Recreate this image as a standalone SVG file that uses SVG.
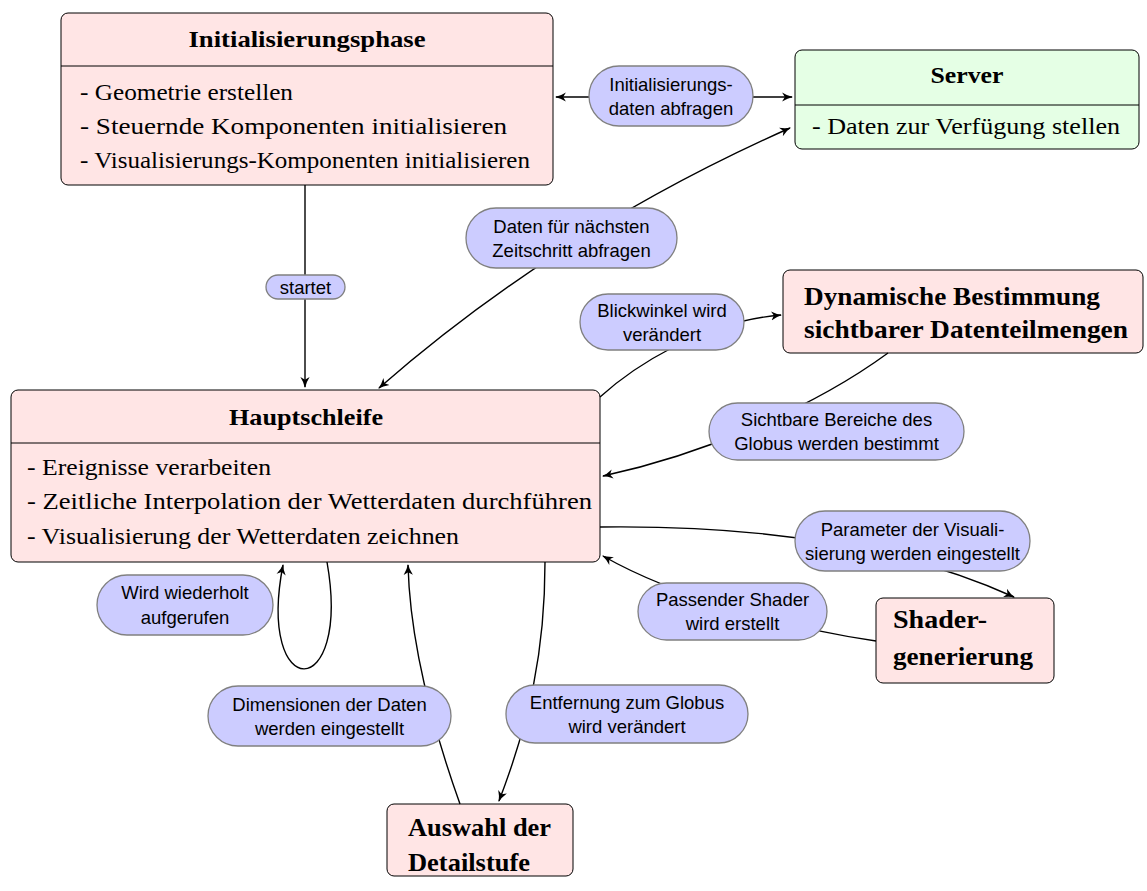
<svg xmlns="http://www.w3.org/2000/svg" width="1147" height="891" viewBox="0 0 1147 891">
<style>
.box{fill:#ffe5e5;stroke:#000;stroke-width:1}
.srv{fill:#e5ffe5;stroke:#000;stroke-width:1}
.div{stroke:#000;stroke-width:1}
.ttl{font-family:"Liberation Serif",serif;font-weight:bold;font-size:24px;fill:#000;text-anchor:middle}
.big{font-family:"Liberation Serif",serif;font-weight:bold;font-size:26px;fill:#000}
.itm{font-family:"Liberation Serif",serif;font-size:23.5px;fill:#000}
.pill{fill:#ccccff;stroke:#808080;stroke-width:1.3}
.lbl{font-family:"Liberation Sans",sans-serif;font-size:18.5px;fill:#000;text-anchor:middle}
.edge{fill:none;stroke:#000;stroke-width:1.4}
</style>
<defs>
<marker id="arr" viewBox="0 0 10 10" refX="9" refY="5" markerWidth="11" markerHeight="11" markerUnits="userSpaceOnUse" orient="auto-start-reverse">
<path d="M0,0.8 Q5,4 10,5 Q5,6 0,9.2 L2.5,5 Z" fill="#000"/>
</marker>
</defs>

<g id="initialisierungsphase">
<rect class="box" x="61" y="13" width="492" height="172" rx="7"/>
<line class="div" x1="61" y1="66" x2="553" y2="66"/>
<text class="ttl" x="307" y="47" textLength="237" lengthAdjust="spacingAndGlyphs">Initialisierungsphase</text>
<text class="itm" x="80" y="100" textLength="213" lengthAdjust="spacingAndGlyphs">- Geometrie erstellen</text>
<text class="itm" x="80" y="134" textLength="427" lengthAdjust="spacingAndGlyphs">- Steuernde Komponenten initialisieren</text>
<text class="itm" x="80" y="168" textLength="450" lengthAdjust="spacingAndGlyphs">- Visualisierungs-Komponenten initialisieren</text>
</g>

<g id="server">
<rect class="srv" x="795" y="50" width="344" height="99" rx="7"/>
<line class="div" x1="795" y1="105" x2="1139" y2="105"/>
<text class="ttl" x="967" y="83" textLength="73" lengthAdjust="spacingAndGlyphs">Server</text>
<text class="itm" x="812" y="134" textLength="308" lengthAdjust="spacingAndGlyphs">- Daten zur Verfügung stellen</text>
</g>

<g id="hauptschleife">
<rect class="box" x="11" y="390" width="589" height="172" rx="7"/>
<line class="div" x1="11" y1="443" x2="600" y2="443"/>
<text class="ttl" x="306" y="425" textLength="154" lengthAdjust="spacingAndGlyphs">Hauptschleife</text>
<text class="itm" x="27" y="475" textLength="244" lengthAdjust="spacingAndGlyphs">- Ereignisse verarbeiten</text>
<text class="itm" x="27" y="509" textLength="565" lengthAdjust="spacingAndGlyphs">- Zeitliche Interpolation der Wetterdaten durchführen</text>
<text class="itm" x="27" y="544" textLength="432" lengthAdjust="spacingAndGlyphs">- Visualisierung der Wetterdaten zeichnen</text>
</g>

<g id="dynamische">
<rect class="box" x="783" y="270" width="360" height="83" rx="7"/>
<text class="big" x="804" y="305" textLength="296" lengthAdjust="spacingAndGlyphs">Dynamische Bestimmung</text>
<text class="big" x="804" y="338" textLength="324" lengthAdjust="spacingAndGlyphs">sichtbarer Datenteilmengen</text>
</g>

<g id="shader">
<rect class="box" x="876" y="598" width="178" height="85" rx="7"/>
<text class="big" x="893" y="628" textLength="94" lengthAdjust="spacingAndGlyphs">Shader-</text>
<text class="big" x="893" y="665" textLength="140" lengthAdjust="spacingAndGlyphs">generierung</text>
</g>

<g id="auswahl">
<rect class="box" x="387" y="804" width="186" height="72" rx="7"/>
<text class="big" x="408" y="836" textLength="143" lengthAdjust="spacingAndGlyphs">Auswahl der</text>
<text class="big" x="408" y="871" textLength="122" lengthAdjust="spacingAndGlyphs">Detailstufe</text>
</g>

<g id="connectors">
<path class="edge" d="M589 97 L556 97" marker-end="url(#arr)"/>
<path class="edge" d="M753 97 L792 97" marker-end="url(#arr)"/>
<path class="edge" d="M305 185 L305 387" marker-end="url(#arr)"/>
<path class="edge" d="M790 128 Q560 230 379 388" marker-start="url(#arr)" marker-end="url(#arr)"/>
<path class="edge" d="M600 397 C632 368 700 322 781 315" marker-end="url(#arr)"/>
<path class="edge" d="M888 353 C810 410 700 455 603 476" marker-end="url(#arr)"/>
<path class="edge" d="M600 527 C760 525 900 545 1014 597" marker-end="url(#arr)"/>
<path class="edge" d="M876 641 C800 630 680 600 603 556" marker-end="url(#arr)"/>
<path class="edge" d="M327 562 C352 704 256 704 283 565" marker-end="url(#arr)"/>
<path class="edge" d="M460 804 C430 720 410 640 408 565" marker-end="url(#arr)"/>
<path class="edge" d="M545 562 C545 650 530 720 499 801" marker-end="url(#arr)"/>
</g>

<g id="labels">
<g id="lbl-init"><rect class="pill" x="589" y="66" width="164" height="60" rx="30"/>
<text class="lbl" x="671" y="91">Initialisierungs-</text><text class="lbl" x="671" y="115">daten abfragen</text></g>
<g id="lbl-startet"><rect class="pill" x="266" y="275" width="79" height="24" rx="12"/>
<text class="lbl" x="305.5" y="294">startet</text></g>
<g id="lbl-daten"><rect class="pill" x="466" y="208" width="211" height="60" rx="30"/>
<text class="lbl" x="571.5" y="233">Daten für nächsten</text><text class="lbl" x="571.5" y="257">Zeitschritt abfragen</text></g>
<g id="lbl-blick"><rect class="pill" x="580" y="294" width="164" height="56" rx="28"/>
<text class="lbl" x="662" y="317">Blickwinkel wird</text><text class="lbl" x="662" y="341">verändert</text></g>
<g id="lbl-sicht"><rect class="pill" x="709" y="403" width="255" height="57" rx="28.5"/>
<text class="lbl" x="836.5" y="426">Sichtbare Bereiche des</text><text class="lbl" x="836.5" y="450">Globus werden bestimmt</text></g>
<g id="lbl-param"><rect class="pill" x="795" y="511" width="235" height="60" rx="30"/>
<text class="lbl" x="912.5" y="536">Parameter der Visuali-</text><text class="lbl" x="912.5" y="560">sierung werden eingestellt</text></g>
<g id="lbl-passend"><rect class="pill" x="638" y="583" width="189" height="57" rx="28.5"/>
<text class="lbl" x="732.5" y="606">Passender Shader</text><text class="lbl" x="732.5" y="630">wird erstellt</text></g>
<g id="lbl-wird"><rect class="pill" x="97" y="575" width="176" height="60" rx="30"/>
<text class="lbl" x="185" y="599">Wird wiederholt</text><text class="lbl" x="185" y="624">aufgerufen</text></g>
<g id="lbl-dim"><rect class="pill" x="208" y="686" width="243" height="60" rx="30"/>
<text class="lbl" x="329.5" y="711">Dimensionen der Daten</text><text class="lbl" x="329.5" y="735">werden eingestellt</text></g>
<g id="lbl-entf"><rect class="pill" x="506" y="685" width="242" height="58" rx="29"/>
<text class="lbl" x="627" y="709">Entfernung zum Globus</text><text class="lbl" x="627" y="733">wird verändert</text></g>
</g>
</svg>
